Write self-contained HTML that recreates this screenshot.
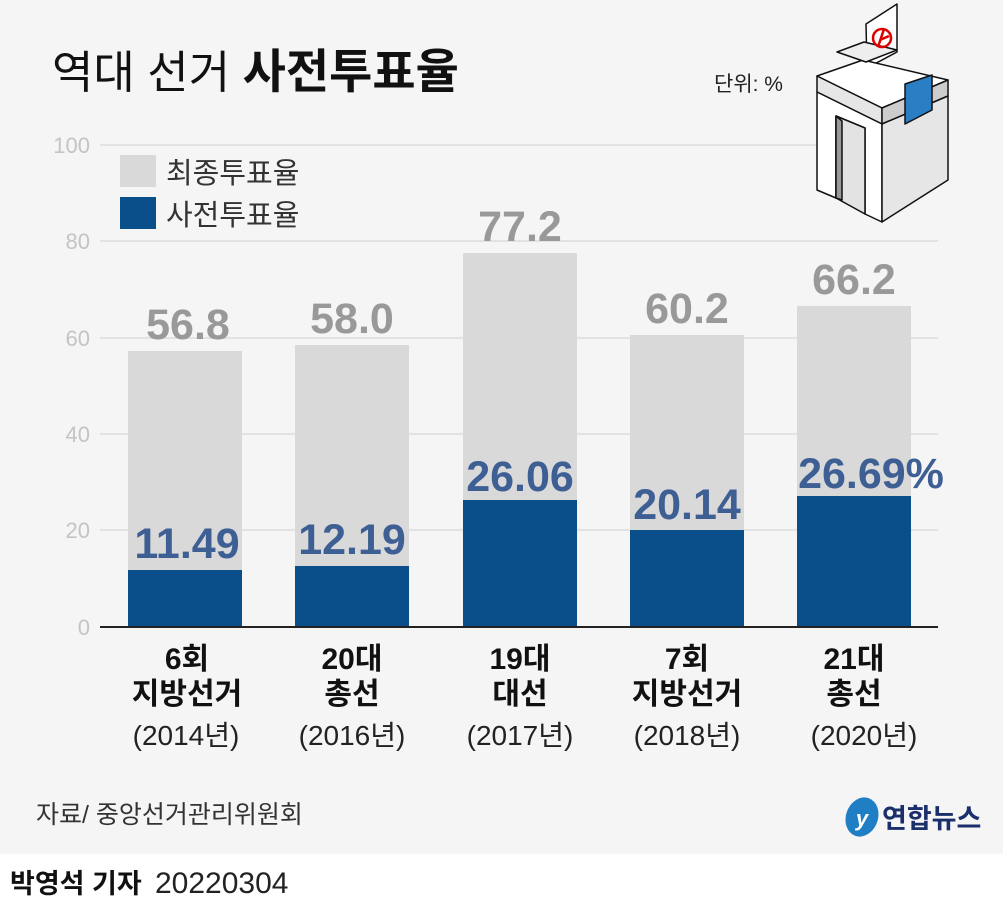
<!DOCTYPE html>
<html><head><meta charset="utf-8"><style>
body{margin:0;width:1003px;height:908px;background:#fff;overflow:hidden}
svg{display:block}
text{font-family:"Liberation Sans","Noto Sans CJK KR",sans-serif}
</style></head><body>
<svg width="1003" height="908" viewBox="0 0 1003 908">
<rect x="0" y="0" width="1003" height="854" fill="#f5f5f5"/>
<text x="52" y="88" font-size="45" fill="#111">역대 선거 <tspan font-weight="bold" font-size="47">사전투표율</tspan></text>
<text x="714" y="91" font-size="21" fill="#222">단위: %</text>
<g stroke="#dcdcdc" stroke-width="1.5">
<line x1="100" y1="145" x2="938" y2="145"/><line x1="100" y1="241" x2="938" y2="241"/>
<line x1="100" y1="338" x2="938" y2="338"/><line x1="100" y1="434" x2="938" y2="434"/>
<line x1="100" y1="530" x2="938" y2="530"/>
</g>
<g font-size="22" fill="#c4c4c4" text-anchor="end">
<text x="90" y="153">100</text><text x="90" y="249">80</text><text x="90" y="346">60</text>
<text x="90" y="442">40</text><text x="90" y="538">20</text><text x="90" y="635">0</text>
</g>
<rect x="120" y="155" width="36" height="32" fill="#d9d9d9"/>
<text x="166" y="183" font-size="29" fill="#333">최종투표율</text>
<rect x="120" y="197" width="36" height="32" fill="#0b4f8a"/>
<text x="166" y="225" font-size="29" fill="#333">사전투표율</text>
<g fill="#d9d9d9">
<rect x="128" y="351" width="114" height="276"/><rect x="295" y="345" width="114" height="282"/>
<rect x="463" y="253" width="114" height="374"/><rect x="630" y="335" width="114" height="292"/>
<rect x="797" y="306" width="114" height="321"/>
</g>
<g fill="#0b4f8a">
<rect x="128" y="570" width="114" height="57"/><rect x="295" y="566" width="114" height="61"/>
<rect x="463" y="500" width="114" height="127"/><rect x="630" y="530" width="114" height="97"/>
<rect x="797" y="496" width="114" height="131"/>
</g>
<line x1="100" y1="627" x2="938" y2="627" stroke="#222" stroke-width="2"/>
<g font-size="43" font-weight="bold" fill="#999" text-anchor="middle">
<text x="188" y="339">56.8</text><text x="352" y="333">58.0</text><text x="520" y="241">77.2</text>
<text x="687" y="323">60.2</text><text x="854" y="294">66.2</text>
</g>
<g font-size="43" font-weight="bold" fill="#3e5f94" text-anchor="middle">
<text x="187" y="558">11.49</text><text x="352" y="554">12.19</text><text x="520" y="491">26.06</text>
<text x="687" y="519">20.14</text><text x="871" y="488">26.69%</text>
</g>
<g font-size="30" font-weight="bold" fill="#111" text-anchor="middle">
<text x="187" y="669">6회</text><text x="187" y="704">지방선거</text>
<text x="352" y="669">20대</text><text x="352" y="704">총선</text>
<text x="520" y="669">19대</text><text x="520" y="704">대선</text>
<text x="687" y="669">7회</text><text x="687" y="704">지방선거</text>
<text x="854" y="669">21대</text><text x="854" y="704">총선</text>
</g>
<g font-size="28" fill="#222" text-anchor="middle">
<text x="186" y="745">(2014년)</text><text x="352" y="745">(2016년)</text><text x="520" y="745">(2017년)</text>
<text x="687" y="745">(2018년)</text><text x="864" y="745">(2020년)</text>
</g>
<text x="36" y="823" font-size="25" fill="#333">자료/ 중앙선거관리위원회</text>
<ellipse cx="862" cy="817" rx="16" ry="20" fill="#1f7ec4" transform="rotate(20 862 817)"/>
<text x="862" y="826" font-size="22" font-weight="bold" fill="#fff" text-anchor="middle" font-style="italic">y</text>
<text x="882" y="828" font-size="27" font-weight="bold" fill="#1a2f6b">연합뉴스</text>
<text x="10" y="893" font-size="27" font-weight="bold" fill="#111">박영석 기자</text>
<text x="155" y="893" font-size="30" fill="#222">20220304</text>
<g stroke="#111" stroke-width="1.5" stroke-linejoin="round">
<polygon points="866,24 897,4 897,52 867,68" fill="#fff"/>
<polygon points="817,76 863,60 948,80 882,108" fill="#fff"/>
<polygon points="817,76 882,108 882,124 817,92" fill="#e6e6e6"/>
<polygon points="882,108 948,80 948,96 882,124" fill="#ccc"/>
<polygon points="817,92 882,124 882,222 865,214 865,128 836,116 836,198 817,190" fill="#fff"/>
<polygon points="836,116 865,128 865,214 836,198" fill="#e3e3e3"/>
<polygon points="836,116 842,121 842,200 836,198" fill="#999"/>
<polygon points="882,124 948,96 948,180 882,222" fill="#e6e6e6"/>
<polygon points="905,84 932,75 932,110 905,124" fill="#2a7fc4"/>
<polygon points="837,52 864,42 897,50 866,62" fill="#eee"/>
</g>
<circle cx="882" cy="38" r="9" fill="none" stroke="#d00" stroke-width="2.5"/>
<path d="M884,29 L878,47 M880,40 L889,36" stroke="#d00" stroke-width="2.5" fill="none"/>
</svg>
</body></html>
